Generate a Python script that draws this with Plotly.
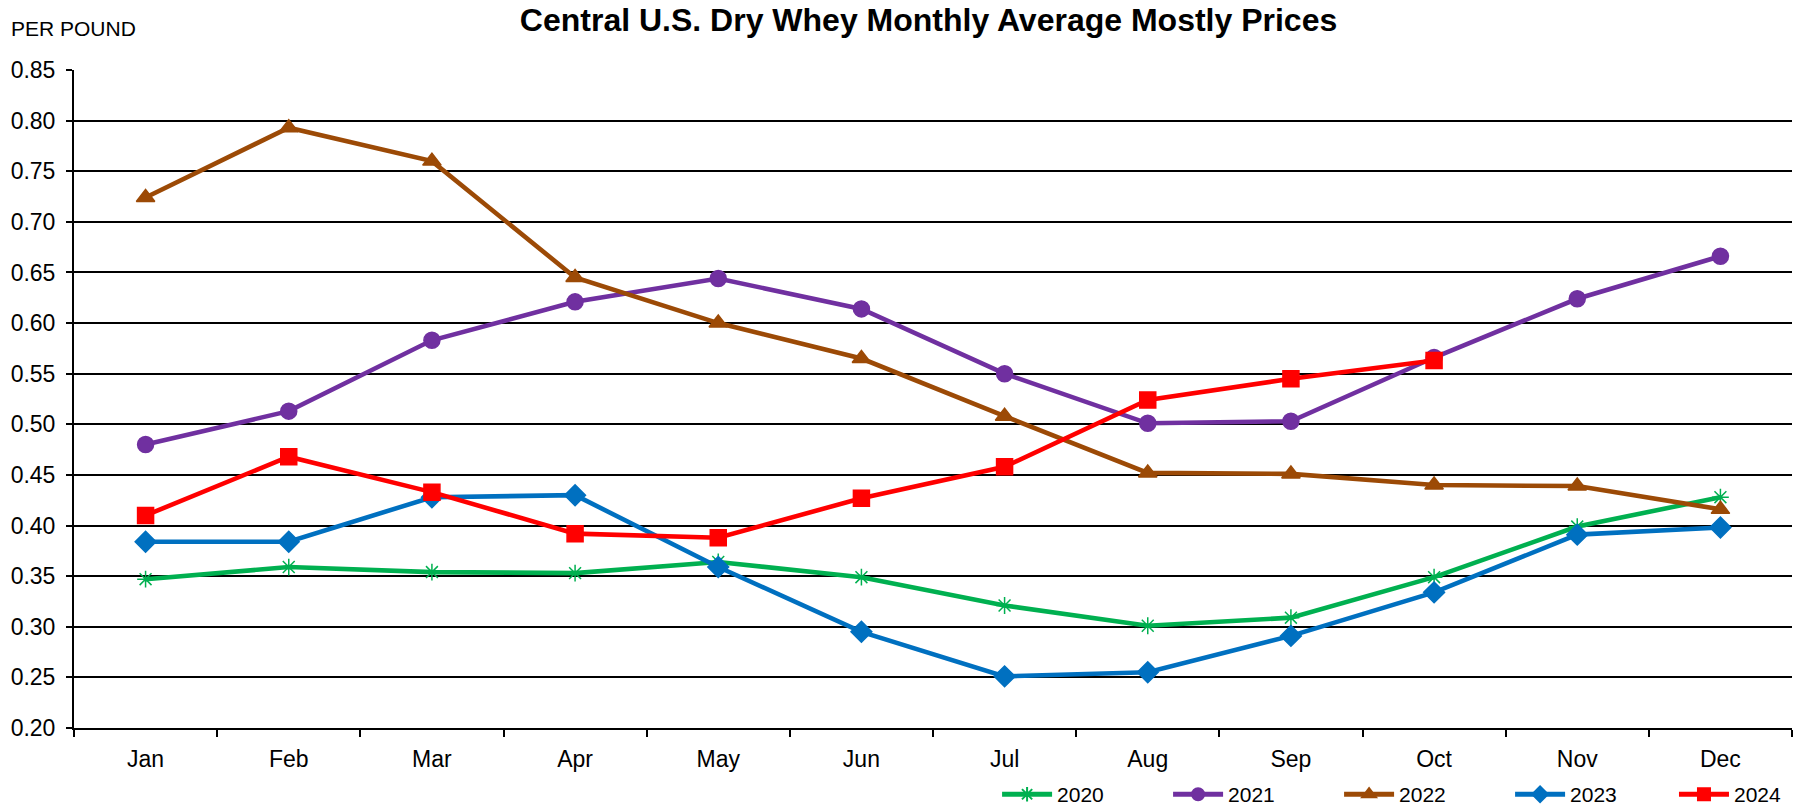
import plotly.graph_objects as go

months = ["Jan", "Feb", "Mar", "Apr", "May", "Jun", "Jul", "Aug", "Sep", "Oct", "Nov", "Dec"]
y2020 = [0.347, 0.359, 0.354, 0.353, 0.364, 0.349, 0.321, 0.301, 0.309, 0.349, 0.399, 0.428]
y2021 = [0.480, 0.513, 0.583, 0.621, 0.644, 0.614, 0.550, 0.501, 0.503, 0.566, 0.624, 0.666]
y2022 = [0.724, 0.793, 0.760, 0.645, 0.600, 0.565, 0.508, 0.452, 0.451, 0.440, 0.439, 0.416]
y2023 = [0.384, 0.384, 0.428, 0.430, 0.359, 0.295, 0.251, 0.255, 0.291, 0.334, 0.391, 0.398]
y2024 = [0.410, 0.468, 0.433, 0.392, 0.388, 0.427, 0.458, 0.524, 0.545, 0.563]

series = [
    ("2020", y2020, "#00B050", "asterisk-open", 14, "legend"),
    ("2021", y2021, "#7030A0", "circle", 16, "legend"),
    ("2022", y2022, "#9C4A06", "triangle-up", 16, "legend"),
    ("2023", y2023, "#0070C0", "diamond", 16, "legend"),
    ("2024", y2024, "#FF0000", "square", 16, "legend2"),
]

fig = go.Figure()
for name, vals, color, sym, size, leg in series:
    fig.add_trace(go.Scatter(
        x=months[:len(vals)], y=vals, name=name, mode="lines+markers",
        line=dict(color=color, width=4.6),
        marker=dict(symbol=sym, size=size, color=color,
                    line=dict(color=color, width=1.5)),
        legend=leg,
    ))

legend_common = dict(orientation="h", xanchor="left",
                     yref="container", y=0.019, yanchor="middle",
                     font=dict(size=21), itemwidth=50, itemsizing="constant",
                     bgcolor="rgba(0,0,0,0)")

fig.update_layout(
    width=1796, height=810,
    paper_bgcolor="white", plot_bgcolor="white",
    margin=dict(l=74, r=4, t=70, b=82),
    font=dict(family="Liberation Sans, Arial, sans-serif", color="black", size=23),
    title=dict(text="<b>Central U.S. Dry Whey Monthly Average Mostly Prices</b>",
               xref="container", x=0.517, xanchor="center",
               yref="container", y=0.975, yanchor="middle",
               font=dict(size=32, color="black")),
    showlegend=True,
    legend=dict(x=0.5373, entrywidth=106, **legend_common),
    legend2=dict(x=0.9313, **legend_common),
    annotations=[dict(text="PER POUND", xref="paper", yref="paper",
                      x=-0.038, y=1.0638, xanchor="left", yanchor="middle",
                      showarrow=False, font=dict(size=21, color="black"))],
)

fig.update_xaxes(
    type="category", categoryorder="array", categoryarray=months,
    range=[-0.5, 11.5], showline=True, linecolor="black", linewidth=2,
    ticks="outside", tickson="boundaries", ticklen=7, tickcolor="black", tickwidth=2,
    showgrid=False, tickfont=dict(size=23), ticklabelstandoff=9, automargin=False,
)
fig.update_yaxes(
    range=[0.2, 0.85], dtick=0.05, tick0=0.2, tickformat=".2f",
    showline=True, linecolor="black", linewidth=2,
    ticks="outside", ticklen=6, tickcolor="black", tickwidth=2,
    showgrid=True, gridcolor="black", gridwidth=2,
    zeroline=False, tickfont=dict(size=23), ticklabelstandoff=6, automargin=False,
)

fig.write_html("out.html", config={"displayModeBar": False},
               post_script="document.body.style.margin='0';")
